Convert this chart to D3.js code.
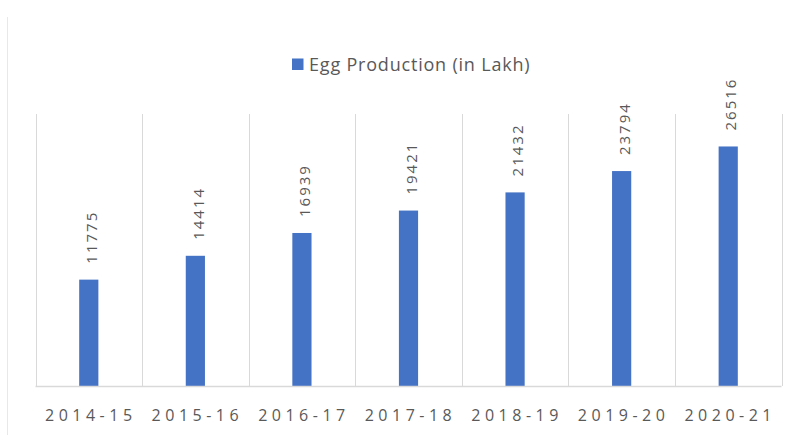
<!DOCTYPE html>
<style>
  body { margin: 0; background: #fff; font-family: 'Open Sans', sans-serif; }
</style>
<svg width="798" height="435"></svg>
<script src="https://cdnjs.cloudflare.com/ajax/libs/d3/7.8.5/d3.min.js"></script>
<script>
  // data
  var years = ["2014-15", "2015-16", "2016-17", "2017-18", "2018-19", "2019-20", "2020-21"];
  var eggs = [11775, 14414, 16939, 19421, 21432, 23794, 26516];
  var seriesName = "Egg Production (in Lakh)";

  var svg = d3.select("svg"),
      plotLeft = 35.5, plotRight = 781.5, plotTop = 115, plotBottom = 386;

  var blue = "#4472C4", grey = "#595959", grid = "#D9D9D9";

  // faint outer frame on the left
  svg.append("line")
    .attr("x1", 7.5).attr("x2", 7.5).attr("y1", 17).attr("y2", 435)
    .attr("stroke", "#e8e8e8");

  var x = d3.scaleBand().domain(years).range([plotLeft, plotRight]).paddingInner(0).paddingOuter(0);
  var y = d3.scaleLinear().domain([0, 30000]).range([plotBottom, plotTop]);
  var barW = x.bandwidth() * 0.18;

  // vertical category gridlines
  var edges = years.map(function(d) { return x(d); }).concat([plotRight]);
  svg.append("g").selectAll("line")
    .data(edges)
    .enter().append("line")
    .attr("x1", function(d) { return Math.round(d) + 0.5; })
    .attr("x2", function(d) { return Math.round(d) + 0.5; })
    .attr("y1", plotTop - 1).attr("y2", plotBottom)
    .attr("stroke", grid);

  // bars
  svg.append("g").selectAll("rect")
    .data(eggs)
    .enter().append("rect")
    .attr("x", function(d, i) { return x(years[i]) + (x.bandwidth() - barW) / 2; })
    .attr("y", function(d) { return y(d); })
    .attr("width", barW)
    .attr("height", function(d) { return y(0) - y(d); })
    .attr("fill", blue);

  // baseline
  svg.append("line")
    .attr("x1", plotLeft).attr("x2", plotRight)
    .attr("y1", plotBottom + 0.5).attr("y2", plotBottom + 0.5)
    .attr("stroke", grid).attr("stroke-width", 1.5);

  // rotated value labels
  svg.append("g").selectAll("text")
    .data(eggs)
    .enter().append("text")
    .attr("transform", function(d, i) {
      return "translate(" + (x(years[i]) + x.bandwidth() / 2 + 3) + "," + (y(d) - 16) + ") rotate(-90)";
    })
    .attr("dy", "0.35em")
    .attr("font-size", 15)
    .attr("letter-spacing", "2px")
    .attr("fill", grey)
    .text(function(d) { return d; });

  // category labels
  svg.append("g").selectAll("text")
    .data(years)
    .enter().append("text")
    .attr("x", function(d) { return x(d) + x.bandwidth() / 2 + 2; })
    .attr("y", 421)
    .attr("text-anchor", "middle")
    .attr("font-size", 16)
    .attr("letter-spacing", "4.5px")
    .attr("fill", grey)
    .text(function(d) { return d; });

  // legend
  var legend = svg.append("g");
  legend.append("rect")
    .attr("x", 292).attr("y", 58.5)
    .attr("width", 11.5).attr("height", 11.5)
    .attr("fill", blue);
  legend.append("text")
    .attr("x", 309).attr("y", 70.5)
    .attr("font-size", 18)
    .attr("letter-spacing", "0.8px")
    .attr("fill", grey)
    .text(seriesName);
</script>
